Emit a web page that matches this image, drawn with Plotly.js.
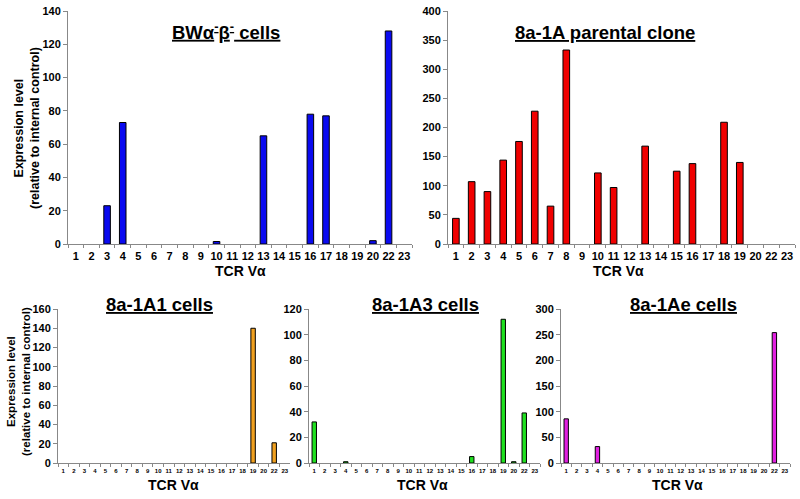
<!DOCTYPE html>
<html><head><meta charset="utf-8">
<script src="https://cdn.plot.ly/plotly-3.0.1.min.js"></script>
<style>html,body{margin:0;padding:0;background:#fff}#c{width:800px;height:499px}</style>
</head><body><div id="c"></div>
<script>
const categories = ["1","2","3","4","5","6","7","8","9","10","11","12","13","14","15","16","17","18","19","20","22","23"];
const bwCells      = [0,0,23,73,0,0,0,0,0,1.5,0,0,65,0,0,78,77,0,0,2,128,0];
const parentalClone= [44,107,90,144,176,228,65,333,0,122,97,0,168,0,125,138,0,209,140,0,0,0];
const a1Cells      = [0,0,0,0,0,0,0,0,0,0,0,0,0,0,0,0,0,0,140,0,21,0];
const a3Cells      = [32,0,0,1,0,0,0,0,0,0,0,0,0,0,0,5,0,0,112,1,39,0];
const aeCells      = [86,0,0,32,0,0,0,0,0,0,0,0,0,0,0,0,0,0,0,0,254,0];

const F = "Liberation Sans, Arial, sans-serif";
const H = 499, W = 800;
const px = x => x / W, py = y => 1 - y / H;

function bar(y, color, xa, ya) {
  return {type:'bar', x:categories, y:y.map(v => v === 0 ? null : v), xaxis:xa, yaxis:ya,
    marker:{color:color, line:{color:'#000', width:1}}, width:0.42, hoverinfo:'skip'};
}
const data = [
  bar(bwCells, '#0a0af0', 'x', 'y'),
  bar(parentalClone, '#f00000', 'x2', 'y2'),
  bar(a1Cells, '#f0a020', 'x3', 'y3'),
  bar(a3Cells, '#20e020', 'x4', 'y4'),
  bar(aeCells, '#e020e0', 'x5', 'y5')
];

function xax(d, anchor, fs) {
  return {domain:d, anchor:anchor, type:'category', categoryarray:categories, categoryorder:'array',
    showgrid:false, zeroline:false, tickangle:0,
    showline:true, linecolor:'#888', linewidth:1, ticks:'outside', ticklen:3, tickcolor:'#888',
    tickson:'boundaries', tickfont:{family:F, size:fs, color:'#000', weight:'bold'}, ticklabelstandoff:2, fixedrange:true};
}
function yax(d, anchor, range, dt, fs) {
  return {domain:d, anchor:anchor, range:range, dtick:dt, showgrid:false, zeroline:false,
    showline:true, linecolor:'#888', linewidth:1, ticks:'outside', ticklen:4, tickcolor:'#888',
    tickfont:{family:F, size:fs, color:'#000', weight:'bold'}, fixedrange:true};
}
const topDom = [py(244), py(11)], botDom = [py(463), py(309)];
const layout = {
  width:W, height:H, margin:{l:0,r:0,t:0,b:0}, paper_bgcolor:'#fff', plot_bgcolor:'rgba(0,0,0,0)',
  showlegend:false, bargap:0.58,
  xaxis: xax([px(68), px(412)], 'y', 11),
  yaxis: yax(topDom, 'x', [0,140], 20, 11),
  xaxis2: xax([px(448), px(795)], 'y2', 11),
  yaxis2: yax(topDom, 'x2', [0,400], 50, 11),
  xaxis3: xax([px(58), px(290)], 'y3', 6),
  yaxis3: yax(botDom, 'x3', [0,160], 20, 11),
  xaxis4: xax([px(309), px(540)], 'y4', 6),
  yaxis4: yax(botDom, 'x4', [0,120], 20, 11),
  xaxis5: xax([px(561), px(790)], 'y5', 6),
  yaxis5: yax(botDom, 'x5', [0,300], 50, 11),
  annotations: []
};
function ann(text, x, y, size, angle) {
  layout.annotations.push({text:text, x:px(x), y:py(y), xref:'paper', yref:'paper',
    showarrow:false, xanchor:'center', yanchor:'middle', textangle:angle||0,
    font:{family:F, size:size, color:'#000', weight:'bold'}});
}
ann('<u>BWα<sup>-</sup>β<sup>-</sup> cells</u>', 226, 31, 18.5);
ann('<u>8a-1A parental clone</u>', 605, 33, 18.5);
ann('<u>8a-1A1 cells</u>', 159, 304, 18.5);
ann('<u>8a-1A3 cells</u>', 425, 304, 18.5);
ann('<u>8a-1Ae cells</u>', 683, 304, 18.5);
ann('TCR Vα', 240, 271, 14);
ann('TCR Vα', 618, 271, 14);
ann('TCR Vα', 173, 485, 14);
ann('TCR Vα', 422, 485, 14);
ann('TCR Vα', 677, 485, 14);
ann('Expression level<br>(relative to internal control)', 27, 128, 12.5, -90);
ann('Expression level<br>(relative to internal control)', 18, 382, 11.5, -90);

Plotly.newPlot('c', data, layout, {displayModeBar:false, staticPlot:true});
</script></body></html>
